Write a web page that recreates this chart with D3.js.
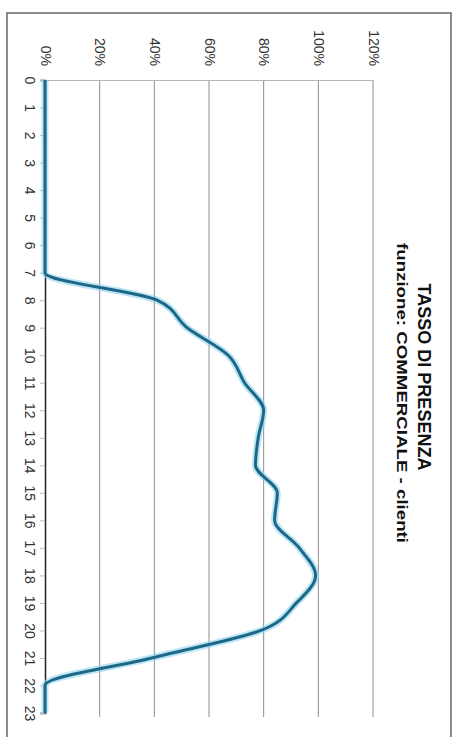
<!DOCTYPE html>
<html>
<head>
<meta charset="utf-8">
<script src="https://cdn.jsdelivr.net/npm/d3@7"></script>
<style>
  body { margin: 0; background: #fff; }
  svg { display: block; font-family: 'Liberation Sans', Arial, sans-serif; }
</style>
</head>
<body>
<div id="chart"></div>
<script>
// chart is printed rotated 90deg clockwise: hours run down, percent runs right
const hours = d3.range(0, 24);
const presence = [0, 0, 0, 0, 0, 0, 0, 0, 41, 52, 67, 73, 80, 78, 77, 85, 84, 93, 99, 92, 79, 39, 0, 0];
const pctTicks = [0, 20, 40, 60, 80, 100, 120];
const title = 'TASSO DI PRESENZA';
const subtitle = 'funzione: COMMERCIALE - clienti';

const W = 459, H = 737;

const svg = d3.select('#chart').append('svg')
  .attr('width', W)
  .attr('height', H);

// frame
svg.append('rect')
  .attr('x', 7).attr('y', 13)
  .attr('width', 444).attr('height', 740)
  .attr('fill', 'none')
  .attr('stroke', '#666')
  .attr('stroke-width', 1.5);

const yScale = d3.scaleLinear()
  .domain([0, 23])
  .range([80, 713]);

const xScale = d3.scaleLinear()
  .domain([0, 120])
  .range([45, 373]);

// gridlines
svg.append('g')
  .selectAll('line')
  .data(pctTicks.slice(1))
  .join('line')
  .attr('x1', d => xScale(d)).attr('x2', d => xScale(d))
  .attr('y1', yScale(0)).attr('y2', yScale(23) + 4)
  .attr('stroke', '#8c8c96')
  .attr('stroke-width', 1);

// percent axis (top)
const xAxis = d3.axisTop(xScale)
  .tickValues(pctTicks)
  .tickSize(0)
  .tickFormat(d => d + '%');

const gx = svg.append('g')
  .attr('transform', `translate(0,${yScale(0)})`)
  .call(xAxis);
gx.select('.domain').attr('stroke', '#b4b4bc');
gx.selectAll('text')
  .attr('x', 0).attr('y', 0).attr('dy', '0.35em')
  .attr('transform', 'translate(0,-14) rotate(90)')
  .attr('text-anchor', 'end')
  .attr('font-size', 14)
  .attr('fill', '#333');

// hour axis (left)
const yAxis = d3.axisLeft(yScale)
  .tickValues(hours)
  .tickSize(5)
  .tickFormat(d => d);

const gy = svg.append('g')
  .attr('transform', `translate(${xScale(0)},0)`)
  .call(yAxis);
gy.select('.domain').attr('stroke', '#222').attr('stroke-width', 1.5);
gy.selectAll('.tick line').attr('stroke', '#bbb');
gy.selectAll('text')
  .attr('x', 0).attr('y', 0).attr('dy', '0.35em')
  .attr('transform', 'translate(-15,0) rotate(90)')
  .attr('text-anchor', 'middle')
  .attr('font-size', 14)
  .attr('fill', '#333');

// line
const line = d3.line()
  .x((d, i) => xScale(d))
  .y((d, i) => yScale(hours[i]))
  .curve(d3.curveMonotoneY);

svg.append('path')
  .attr('d', line(presence))
  .attr('fill', 'none')
  .attr('stroke', '#8fd3f0')
  .attr('stroke-opacity', 0.6)
  .attr('stroke-width', 7);

svg.append('path')
  .attr('d', line(presence))
  .attr('fill', 'none')
  .attr('stroke', '#1d6787')
  .attr('stroke-width', 3);

// titles
svg.append('text')
  .attr('transform', 'translate(418,377) rotate(90)')
  .attr('text-anchor', 'middle')
  .attr('font-size', 18)
  .attr('font-weight', 'bold')
  .attr('textLength', 187)
  .attr('lengthAdjust', 'spacingAndGlyphs')
  .attr('fill', '#111')
  .text(title);

svg.append('text')
  .attr('transform', 'translate(397,393) rotate(90)')
  .attr('text-anchor', 'middle')
  .attr('font-size', 15)
  .attr('font-weight', 'bold')
  .attr('textLength', 300)
  .attr('lengthAdjust', 'spacingAndGlyphs')
  .attr('fill', '#111')
  .text(subtitle);
</script>
</body>
</html>
